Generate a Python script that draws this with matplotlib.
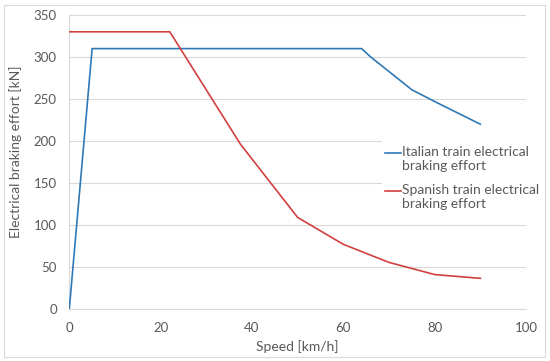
import numpy as np
import matplotlib.pyplot as plt
from matplotlib.patches import Rectangle
from matplotlib.lines import Line2D

# data
italian_speed = [0, 5, 64, 66, 75, 80, 85, 90]
italian_effort = [0, 310, 310, 300, 261, 247, 233.5, 220]
spanish_speed = [0, 22, 37.5, 50, 60, 70, 80, 90]
spanish_effort = [330, 330, 196, 109, 77, 55.5, 41, 36.5]

labels = ['Italian train electrical\nbraking effort', 'Spanish train electrical\nbraking effort']
colors = ['#2f78b5', '#d23f3f']
x_ticks = [0, 20, 40, 60, 80, 100]
y_ticks = [0, 50, 100, 150, 200, 250, 300, 350]

plt.rcParams['font.family'] = ['Lato', 'DejaVu Sans']
txt_col = '#595959'
grid_col = '#d9d9d9'

W, H = 550, 361
fig = plt.figure(figsize=(W/100, H/100), dpi=100)
ax = fig.add_axes([69.3/W, 1-309/H, (526-69.3)/W, (309-15)/H])

ax.plot(italian_speed, italian_effort, color=colors[0], linewidth=1.2, zorder=3)
ax.plot(spanish_speed, spanish_effort, color=colors[1], linewidth=1.2, zorder=3)

ax.set_xlim(0, 100)
ax.set_ylim(0, 350)
ax.set_xticks(x_ticks)
ax.set_yticks(y_ticks)
ax.grid(axis='y', color=grid_col, linewidth=0.8)
ax.set_axisbelow(True)
for s in ['top', 'right']:
    ax.spines[s].set_visible(False)
for s in ['left', 'bottom']:
    ax.spines[s].set_color(grid_col)
    ax.spines[s].set_linewidth(0.8)
ax.tick_params(length=0, labelsize=9.5, labelcolor=txt_col, pad=9)
ax.set_xlabel('Speed [km/h]', fontsize=10, color=txt_col, labelpad=5)
ax.set_ylabel('Electrical braking effort [kN]', fontsize=10, color=txt_col)
ax.yaxis.set_label_coords(-0.104, 0.534)

# legend drawn like the spreadsheet one (line next to first text row)
fig.add_artist(Rectangle((382/W, 1-222/H), 162/W, 82/H, transform=fig.transFigure,
                         facecolor='white', edgecolor='none', zorder=4))
for i, (lab, c) in enumerate(zip(labels, colors)):
    y0 = 152.5 + i*38.5
    fig.add_artist(Line2D([385/W, 401/W], [1-y0/H, 1-y0/H], transform=fig.transFigure,
                          color=c, linewidth=1.2, zorder=5))
    fig.text(402/W, 1-(y0-7)/H, lab, fontsize=10, color=txt_col, va='top', ha='left',
             linespacing=1.25, zorder=5)

# chart border
fig.add_artist(Rectangle((3.5/W, 4/H), 541/W, 352/H, transform=fig.transFigure,
                         facecolor='none', edgecolor=grid_col, linewidth=0.8))

fig.savefig('out.png', dpi=100)
